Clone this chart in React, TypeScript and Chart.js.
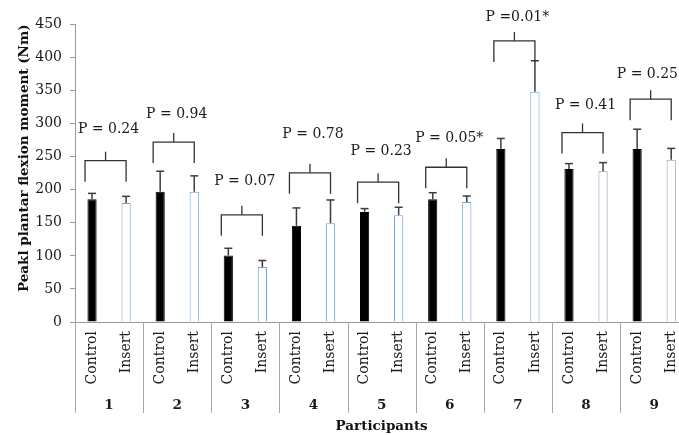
import React, { useEffect, useRef } from "react";
import { Chart, registerables } from "chart.js";

Chart.register(...registerables);

// ---- data ----
const participants = ["1", "2", "3", "4", "5", "6", "7", "8", "9"];
const conditions = ["Control", "Insert"];
const controlMeans = [185.5, 197, 100.5, 145.5, 166.5, 185.5, 261.5, 231.5, 261.5];
const controlSD = [9, 31, 11, 27, 5, 10, 16, 8, 30];
const insertMeans = [180, 197, 83, 149.5, 161.5, 181.5, 348, 228, 245.5];
const insertSD = [10, 24, 10, 35, 12, 9, 47, 13, 17];
const pLabels = ["P = 0.24", "P = 0.94", "P = 0.07", "P = 0.78", "P = 0.23", "P = 0.05*", "P =0.01*", "P = 0.41", "P = 0.25"];
const bracketLevels = [244, 272, 162, 225.5, 211.5, 234, 425, 286.5, 337];
const pLabelLevels = [292, 314.5, 213, 284, 258, 277, 460.5, 327, 374.5];
const yTicks = [0, 50, 100, 150, 200, 250, 300, 350, 400, 450];
const yTitle = "Peakl plantar flexion moment (Nm)";
const xTitle = "Participants";

const SERIF = "'DejaVu Serif', 'Liberation Serif', serif";
const VISIBLE_WIDTH = 671; // visible canvas width (page width minus 8px offset)

export default function App() {
  const ref = useRef<HTMLCanvasElement>(null);

  useEffect(() => {
    document.body.style.margin = "0";
    const canvas = ref.current;
    if (!canvas) return;

    const labels = participants.flatMap(() => conditions);
    const values = participants.flatMap((_, i) => [controlMeans[i], insertMeans[i]]);
    const sds = participants.flatMap((_, i) => [controlSD[i], insertSD[i]]);
    const fill = labels.map((l) => (l === "Control" ? "#000000" : "#ffffff"));
    const border = labels.map((l) => (l === "Control" ? "#000000" : "#7f9dc4"));

    const line = (ctx: CanvasRenderingContext2D, x1: number, y1: number, x2: number, y2: number) => {
      ctx.beginPath();
      ctx.moveTo(x1, y1);
      ctx.lineTo(x2, y2);
      ctx.stroke();
    };

    const annot = {
      id: "annot",
      afterDraw(chart: any) {
        const x = chart.scales.x;
        const y = chart.scales.y;
        const ctx: CanvasRenderingContext2D = chart.ctx;
        ctx.save();
        // error bars (positive direction)
        ctx.strokeStyle = "#3c3c3c";
        ctx.lineWidth = 1.5;
        values.forEach((v, i) => {
          const px = x.getPixelForValue(i);
          const y0 = y.getPixelForValue(v);
          const y1 = y.getPixelForValue(v + sds[i]);
          line(ctx, px, y0, px, y1);
          line(ctx, px - 4, y1, px + 4, y1);
        });
        // brackets + p-values
        ctx.font = `14px ${SERIF}`;
        ctx.fillStyle = "#1a1a1a";
        ctx.textAlign = "center";
        ctx.textBaseline = "middle";
        participants.forEach((_, g) => {
          const xl = x.getPixelForValue(2 * g) - 7;
          const xr = x.getPixelForValue(2 * g + 1);
          const yb = y.getPixelForValue(bracketLevels[g]);
          ctx.strokeStyle = "#333333";
          ctx.lineWidth = 1.3;
          ctx.beginPath();
          ctx.moveTo(xl, yb + 21);
          ctx.lineTo(xl, yb);
          ctx.lineTo(xr, yb);
          ctx.lineTo(xr, yb + 21);
          ctx.stroke();
          const xc = (xl + xr) / 2;
          line(ctx, xc, yb, xc, yb - 9);
          const w = ctx.measureText(pLabels[g]).width;
          const tx = Math.min(xc + 3, VISIBLE_WIDTH - 1 - w / 2);
          ctx.fillText(pLabels[g], tx, y.getPixelForValue(pLabelLevels[g]));
        });
        // group dividers and participant numbers
        ctx.strokeStyle = "#a8a8a8";
        ctx.lineWidth = 1;
        const bounds = [x.left];
        participants.forEach((_, g) => {
          bounds.push(
            g < participants.length - 1
              ? (x.getPixelForValue(2 * g + 1) + x.getPixelForValue(2 * g + 2)) / 2
              : x.right
          );
        });
        bounds.forEach((b) => line(ctx, Math.round(b) + 0.5, y.bottom, Math.round(b) + 0.5, y.bottom + 91));
        ctx.font = `bold 13.5px ${SERIF}`;
        ctx.fillStyle = "#1a1a1a";
        participants.forEach((p, g) => {
          const cx = (x.getPixelForValue(2 * g) + x.getPixelForValue(2 * g + 1)) / 2;
          ctx.fillText(p, cx, y.bottom + 83);
        });
        // y-axis title
        ctx.font = `bold 13.5px ${SERIF}`;
        ctx.fillStyle = "#111111";
        ctx.translate(16, (y.top + y.bottom) / 2 - 15);
        ctx.rotate(-Math.PI / 2);
        ctx.fillText(yTitle, 0, 0);
        ctx.restore();
      },
    };

    const chart = new Chart(canvas, {
      type: "bar",
      data: {
        labels,
        datasets: [
          {
            data: values,
            backgroundColor: fill,
            borderColor: border,
            borderWidth: 1,
            barPercentage: 0.27,
            categoryPercentage: 1,
          },
        ],
      },
      options: {
        animation: false,
        responsive: true,
        maintainAspectRatio: false,
        layout: { padding: { top: 14, left: 0, right: 0, bottom: 0 } },
        plugins: { legend: { display: false }, tooltip: { enabled: false } },
        scales: {
          x: {
            type: "category",
            offset: true,
            grid: { display: false },
            border: { display: true, color: "#9a9a9a", width: 1 },
            ticks: {
              autoSkip: false,
              minRotation: 90,
              maxRotation: 90,
              padding: 1,
              color: "#1a1a1a",
              font: { family: SERIF, size: 14 },
            },
            title: {
              display: true,
              text: xTitle,
              color: "#111111",
              font: { family: SERIF, size: 13.5, weight: "bold" },
              padding: { top: 0, bottom: 0 },
            },
            afterFit: (s: any) => {
              s.height = 113;
            },
          },
          y: {
            min: 0,
            max: 450,
            afterBuildTicks: (s: any) => {
              s.ticks = yTicks.map((v) => ({ value: v }));
            },
            grid: { drawOnChartArea: false, drawTicks: true, tickLength: 5, color: "#9a9a9a" },
            border: { display: true, color: "#9a9a9a", width: 1 },
            ticks: {
              padding: 8,
              color: "#1a1a1a",
              font: { family: SERIF, size: 14 },
            },
            title: { display: false },
            afterFit: (s: any) => {
              s.width = 67;
            },
          },
        },
      },
      plugins: [annot],
    });
    return () => chart.destroy();
  }, []);

  return (
    <div style={{ width: 679, height: 435, overflow: "hidden", position: "relative", background: "#ffffff" }}>
      <div style={{ position: "absolute", left: 8, top: 8, width: 681, height: 427 }}>
        <canvas ref={ref} />
      </div>
    </div>
  );
}
